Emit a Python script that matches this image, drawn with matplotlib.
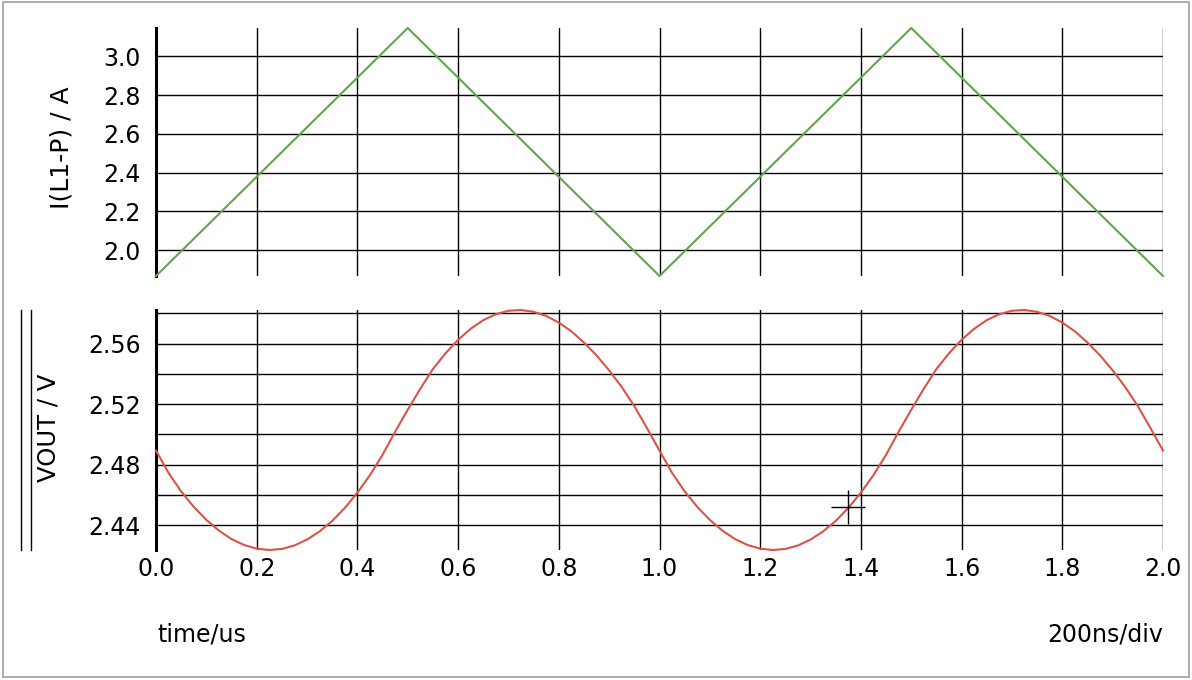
import matplotlib
matplotlib.use("Agg")
import matplotlib.pyplot as plt
from matplotlib.lines import Line2D
from matplotlib.patches import Rectangle

# ---------------- data ----------------
# inductor current (triangle vertices), time in us
t_il = [0.0, 0.5, 1.0, 1.5, 2.0]
il = [1.866, 3.147, 1.866, 3.147, 1.866]

# output voltage, time in us
t_vout = [
    0.000, 0.025, 0.050, 0.075, 0.100, 0.125, 0.150, 0.175, 0.200, 0.225,
    0.250, 0.275, 0.300, 0.325, 0.350, 0.375, 0.400, 0.425, 0.450, 0.475,
    0.500, 0.525, 0.550, 0.575, 0.600, 0.625, 0.650, 0.675, 0.700, 0.725,
    0.750, 0.775, 0.800, 0.825, 0.850, 0.875, 0.900, 0.925, 0.950, 0.975,
    1.000, 1.025, 1.050, 1.075, 1.100, 1.125, 1.150, 1.175, 1.200, 1.225,
    1.250, 1.275, 1.300, 1.325, 1.350, 1.375, 1.400, 1.425, 1.450, 1.475,
    1.500, 1.525, 1.550, 1.575, 1.600, 1.625, 1.650, 1.675, 1.700, 1.725,
    1.750, 1.775, 1.800, 1.825, 1.850, 1.875, 1.900, 1.925, 1.950, 1.975,
    2.000,
]
vout = [
    2.4893, 2.4745, 2.4623, 2.4521, 2.4435, 2.4364, 2.4308, 2.4269, 2.4245, 2.4236,
    2.4243, 2.4266, 2.4305, 2.4359, 2.4428, 2.4514, 2.4615, 2.4731, 2.4865, 2.5018,
    2.5163, 2.5302, 2.5432, 2.5536, 2.5625, 2.5698, 2.5755, 2.5794, 2.5817, 2.5822,
    2.5810, 2.5783, 2.5739, 2.5681, 2.5607, 2.5522, 2.5423, 2.5313, 2.5187, 2.5042,
    2.4893, 2.4745, 2.4623, 2.4521, 2.4435, 2.4364, 2.4308, 2.4269, 2.4245, 2.4236,
    2.4243, 2.4266, 2.4305, 2.4359, 2.4428, 2.4514, 2.4615, 2.4731, 2.4865, 2.5018,
    2.5163, 2.5302, 2.5432, 2.5536, 2.5625, 2.5698, 2.5755, 2.5794, 2.5817, 2.5822,
    2.5810, 2.5783, 2.5739, 2.5681, 2.5607, 2.5522, 2.5423, 2.5313, 2.5187, 2.5042,
    2.4893,
]

x_ticks = [0.0, 0.2, 0.4, 0.6, 0.8, 1.0, 1.2, 1.4, 1.6, 1.8, 2.0]
il_ticks = [2.0, 2.2, 2.4, 2.6, 2.8, 3.0]
vout_ticks = [2.44, 2.48, 2.52, 2.56]
vout_minor = [2.46, 2.50, 2.54, 2.58]

cursor_t = [1.374]
cursor_v = [2.4522]

il_label = "I(L1-P) / A"
vout_label = "VOUT / V"
x_label = "time/us"
scale_label = "200ns/div"

# ---------------- figure ----------------
plt.rcParams['font.family'] = ['DejaVu Sans']
FS = 17
W, H = 1192, 680
fig = plt.figure(figsize=(W / 100, H / 100), dpi=100)
fig.patch.set_facecolor('white')

def fx(px):
    return px / W

def fy(py):
    return 1 - py / H

left, right = 156, 1163
ax1 = fig.add_axes([fx(left), fy(276), fx(right - left), (276 - 28) / H])
ax2 = fig.add_axes([fx(left), fy(550), fx(right - left), (550 - 310) / H])

green = '#65a153'
red = '#d9534a'

for ax in (ax1, ax2):
    for s in ('top', 'right', 'bottom'):
        ax.spines[s].set_visible(False)
    ax.spines['left'].set_linewidth(2.2)
    ax.spines['left'].set_color('black')
    ax.set_xlim(x_ticks[0], x_ticks[-1])
    ax.set_xticks(x_ticks)
    ax.tick_params(axis='both', which='both', length=0, labelsize=FS,
                   colors='black')
    ax.grid(True, which='both', color='black', linewidth=1.0)
    ax.set_axisbelow(True)

# top: inductor current
ax1.plot(t_il, il, color=green, linewidth=1.5, zorder=3, clip_on=False)
ax1.set_ylim(min(il), max(il))
ax1.set_yticks(il_ticks)
ax1.set_yticklabels([f"{v:.1f}" for v in il_ticks])
ax1.tick_params(axis='y', pad=11)
ax1.tick_params(axis='x', labelbottom=False)

# bottom: output voltage
ax2.plot(t_vout, vout, color=red, linewidth=1.5, zorder=3, clip_on=False)
ax2.set_ylim(min(vout), max(vout))
ax2.set_yticks(vout_ticks)
ax2.set_yticklabels([f"{v:.2f}" for v in vout_ticks])
ax2.set_yticks(vout_minor, minor=True)
ax2.tick_params(axis='y', pad=11)
ax2.tick_params(axis='x', pad=5)
ax2.set_xticklabels([f"{v:.1f}" for v in x_ticks])

# cursor crosshair
ax2.plot(cursor_t, cursor_v, marker='+', markersize=24, markeredgewidth=1.0,
         color='black', linestyle='none', zorder=4, clip_on=False)

# axis labels
fig.text(fx(62), fy(148), il_label, rotation=90, ha='center', va='center',
         fontsize=18)
fig.text(fx(48), fy(428), vout_label, rotation=90, ha='center', va='center',
         fontsize=17.5)
fig.text(fx(157), fy(634), x_label, ha='left', va='center', fontsize=FS)
fig.text(fx(1163), fy(634), scale_label, ha='right', va='center', fontsize=FS)

# double bar beside the lower plot
for px in (20.7, 30.7):
    fig.add_artist(Line2D([fx(px), fx(px)], [fy(310), fy(550)],
                          color='black', linewidth=1.0))

# outer frame
fig.add_artist(Rectangle((fx(3), fy(677)), fx(1189 - 3), (677 - 2) / H,
                         fill=False, edgecolor='#a0a0a0', linewidth=1.2))

fig.savefig('out.png', dpi=100, facecolor='white')
